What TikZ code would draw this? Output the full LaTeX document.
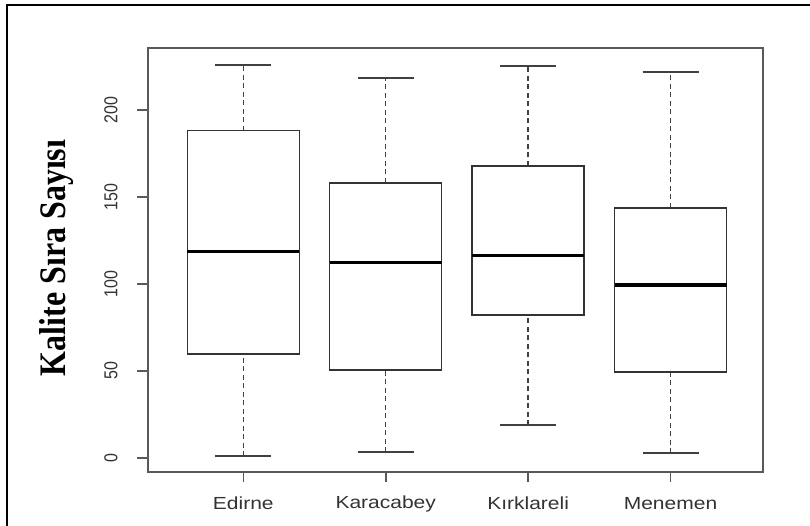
\documentclass[tikz,border=0pt]{standalone}
\usepackage{fontspec}
\setmainfont{Liberation Serif}
\setsansfont{Liberation Sans}
\begin{document}
\begin{tikzpicture}[x=1pt,y=-1pt,
  frameline/.style={line width=2pt,black},
  axisline/.style={line width=1.6pt,black!65},
  boxline/.style={line width=1.3pt,black!80},
  medline/.style={line width=3pt,black},
  whisk/.style={line width=1.3pt,black!75,dash pattern=on 5pt off 3.5pt},
  capline/.style={line width=1.3pt,black!75},
  ticklab/.style={font=\sffamily\fontsize{16}{16}\selectfont,text=black!80,rotate=90,inner sep=0pt},
  catlab/.style={font=\sffamily\fontsize{17.5}{17.5}\selectfont,text=black!80,inner sep=0pt},
  ylab/.style={font=\rmfamily\bfseries\fontsize{32}{32}\selectfont,rotate=90,inner sep=0pt}]
\useasboundingbox (0,0) rectangle (810,526);
\fill[white] (0,0) rectangle (810,526);
% outer frame (only left and top visible)
\draw[frameline] (7,526) -- (7,5) -- (810,5);
% plot box
\draw[axisline] (148,48) rectangle (763,472);
% y ticks
\foreach \v/\lab [count=\i] in {0/0,50/50,100/100,150/150,200/200}{
  \pgfmathsetmacro{\yy}{457.7-1.739*\v}
  \draw[axisline] (137,\yy) -- (148,\yy);
  \node[ticklab] (yt\i) at (111,\yy) {\scalebox{1}[1.17]{\lab}};
}
% y label
\node[ylab] (ylabel) at (57,258) {\scalebox{1}[1.17]{Kalite Sıra Sayısı}};
% boxplots: name / lower whisker / Q1 / median / Q3 / upper whisker (pixel y)
\foreach \name/\lo/\qa/\md/\qc/\hi [count=\i] in {
  Edirne/456/354/251.7/130.7/65,
  Karacabey/452/370/263/183/78,
  Kırklareli/425/315/256/166/66,
  Menemen/453/372/285/208/72}{
  \pgfmathsetmacro{\cx}{243.3+142.4*(\i-1)}
  \draw[whisk] (\cx,\lo) -- (\cx,\qa);
  \draw[whisk] (\cx,\qc) -- (\cx,\hi);
  \draw[capline] (\cx-28,\lo) -- (\cx+28,\lo);
  \draw[capline] (\cx-28,\hi) -- (\cx+28,\hi);
  \draw[boxline] (\cx-56,\qa) rectangle (\cx+56,\qc);
  \draw[medline] (\cx-56,\md) -- (\cx+56,\md);
  \draw[axisline] (\cx,472) -- (\cx,482);
  \node[catlab] (xl\i) at (\cx,503.5) {\scalebox{1.2}[1]{\name}};
}
\end{tikzpicture}
\end{document}
